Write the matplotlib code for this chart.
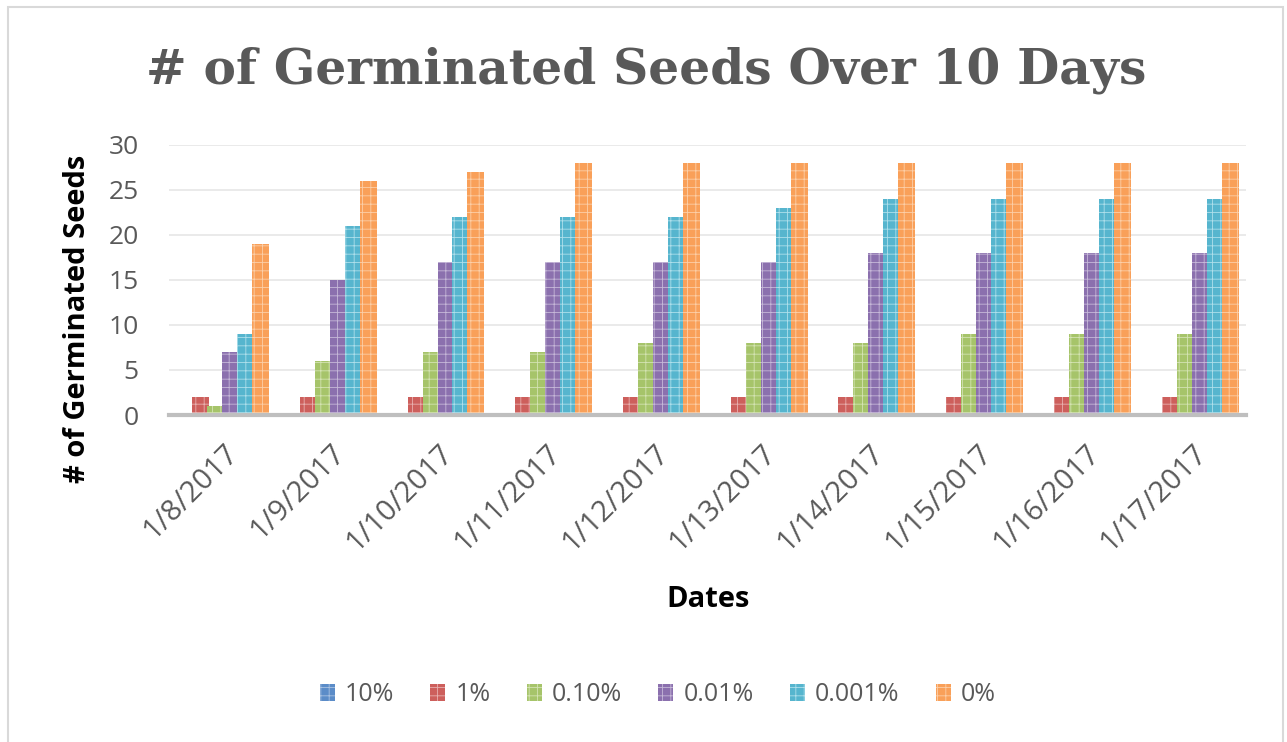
import matplotlib
matplotlib.use("Agg")
import matplotlib.pyplot as plt
import numpy as np
from matplotlib.patches import Rectangle

dates = ["1/8/2017", "1/9/2017", "1/10/2017", "1/11/2017", "1/12/2017",
         "1/13/2017", "1/14/2017", "1/15/2017", "1/16/2017", "1/17/2017"]
series_names = ["10%", "1%", "0.10%", "0.01%", "0.001%", "0%"]
s_10 = [0, 0, 0, 0, 0, 0, 0, 0, 0, 0]
s_1 = [2, 2, 2, 2, 2, 2, 2, 2, 2, 2]
s_010 = [1, 6, 7, 7, 8, 8, 8, 9, 9, 9]
s_001 = [7, 15, 17, 17, 17, 17, 18, 18, 18, 18]
s_0001 = [9, 21, 22, 22, 22, 23, 24, 24, 24, 24]
s_0 = [19, 26, 27, 28, 28, 28, 28, 28, 28, 28]
all_series = [s_10, s_1, s_010, s_001, s_0001, s_0]
colors = ["#5B8CC8", "#CD5F5C", "#A6C46A", "#8B70AE", "#56B5CE", "#F9A059"]
hatch_colors = ["#A9C2E2", "#E8B0AF", "#D4E3B3", "#C6B8D8", "#AEDFEB", "#FCCFA8"]

plt.rcParams['hatch.linewidth'] = 0.6
fig = plt.figure(figsize=(12.87, 7.42), dpi=100)
fig.patches.append(Rectangle((0.0065, -0.01), 0.9905, 1.0, transform=fig.transFigure,
                             fill=False, edgecolor="#D9D9D9", linewidth=1.5))
ax = fig.add_axes([0.1315, 0.4407, 0.837, 0.3639])

x = np.arange(len(dates))
step = 0.139
width = 0.158
for i, (vals, c, hc, name) in enumerate(zip(all_series, colors, hatch_colors, series_names)):
    ax.bar(x + (i - 2.5) * step, vals, width, color=c, edgecolor=hc,
           linewidth=0, hatch="++", label=name, zorder=2)

ax.set_xlim(-0.5, len(dates) - 0.5)
ax.set_ylim(0, 30)
ax.set_yticks(range(0, 31, 5))
ax.yaxis.grid(True, color="#E6E6E6", linewidth=1.2, zorder=0)
ax.set_axisbelow(True)
for s in ["top", "right", "left"]:
    ax.spines[s].set_visible(False)
ax.spines["bottom"].set_color("#BFBFBF")
ax.spines["bottom"].set_linewidth(3)
ax.tick_params(axis="both", length=0, labelcolor="#595959")
ax.tick_params(axis="x", labelsize=21, pad=17)
ax.tick_params(axis="y", labelsize=19, pad=22)
ax.set_xticks(x)
ax.set_xticklabels(dates, rotation=45, ha="right", rotation_mode="anchor",
                   fontfamily="Open Sans")
for lab in ax.get_yticklabels():
    lab.set_fontfamily("Open Sans")

ax.set_ylabel("# of Germinated Seeds", fontsize=21, fontweight="bold",
              fontfamily="Open Sans", color="black")
ax.yaxis.set_label_coords(-0.0854, 0.356)
ax.set_xlabel("Dates", fontsize=21, fontweight="bold", fontfamily="Open Sans",
              color="black")
ax.xaxis.set_label_coords(0.5, -0.685)
ax.xaxis.label.set_va("center")
ax.yaxis.label.set_va("center")

fig.text(0.502, 0.905, "# of Germinated Seeds Over 10 Days", ha="center", va="center",
         fontsize=35, fontweight="bold", fontfamily="DejaVu Serif", color="#595959")

leg = fig.legend(loc="center", bbox_to_anchor=(0.511, 0.064), ncol=6, frameon=False,
                 prop={"family": "Open Sans", "size": 18}, handlelength=0.6,
                 handleheight=0.7, columnspacing=1.45, handletextpad=0.4)
for t in leg.get_texts():
    t.set_color("#595959")

fig.savefig("out.png", dpi=100)
